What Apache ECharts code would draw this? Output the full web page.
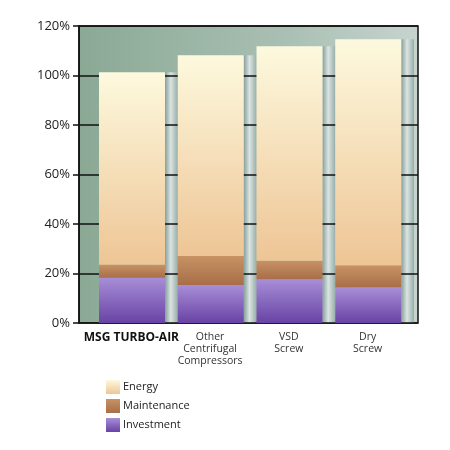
<!DOCTYPE html>
<html>
<head>
<meta charset="utf-8">
<script src="https://cdn.jsdelivr.net/npm/echarts@6/dist/echarts.min.js"></script>
<style>
  html, body { margin: 0; padding: 0; background: #fff; }
  #chart { width: 450px; height: 450px; }
</style>
</head>
<body>
<div id="chart"></div>
<script>
// compressor life-cycle cost shares
const categories = ['MSG TURBO-AIR', 'Other\nCentrifugal\nCompressors', 'VSD\nScrew', 'Dry\nScrew'];
const investment = [18.3, 15.4, 17.7, 14.3];
const maintenance = [5.2, 11.7, 7.5, 9.0];
const energy = [77.8, 81.1, 86.6, 91.3];
const yTicks = [0, 20, 40, 60, 80, 100, 120];

// side face of each bar (the 3D depth) is as tall as the whole stack
const totals = categories.map((c, i) => investment[i] + maintenance[i] + energy[i]);

const chart = echarts.init(document.getElementById('chart'));

const vGrad = (top, bottom) => new echarts.graphic.LinearGradient(0, 0, 0, 1, [
  { offset: 0, color: top },
  { offset: 1, color: bottom }
]);

const energyColor = vGrad('#fdf9de', '#eec595');
const maintColor = vGrad('#c79264', '#a86e48');
const investColor = vGrad('#a88ed8', '#6843a4');
const sideColor = new echarts.graphic.LinearGradient(0, 0, 1, 0, [
  { offset: 0, color: '#86a09c' },
  { offset: 0.45, color: '#dbe4e1' },
  { offset: 1, color: '#97aeaa' }
]);

const option = {
  animation: false,
  textStyle: { fontFamily: '"Open Sans", sans-serif' },
  grid: [
    {
      // plot frame + background + y axis
      left: 79, right: 32, top: 26, bottom: 127,
      show: true,
      borderColor: '#111',
      borderWidth: 1.5,
      backgroundColor: new echarts.graphic.LinearGradient(0, 0, 1, 0, [
        { offset: 0, color: '#8aa995' },
        { offset: 0.6, color: '#a9bfb3' },
        { offset: 1, color: '#c6d4ce' }
      ])
    },
    {
      // bars
      left: 99, right: 36, top: 26, bottom: 127
    }
  ],
  xAxis: [
    { gridIndex: 0, type: 'value', show: false, min: 0, max: 1 },
    {
      gridIndex: 1,
      type: 'category',
      data: categories,
      axisLine: { show: false },
      axisTick: { show: false },
      axisLabel: {
        interval: 0,
        margin: 8,
        verticalAlign: 'top',
        padding: [0, 14, 0, 0],
        formatter: (v, i) => i === 0 ? '{b|' + v + '}' : v,
        color: '#333',
        fontSize: 10.5,
        lineHeight: 12,
        rich: {
          b: { fontWeight: 'bold', fontSize: 12, color: '#111', lineHeight: 13 }
        }
      }
    }
  ],
  yAxis: [
    {
      gridIndex: 0,
      type: 'value',
      min: yTicks[0],
      max: yTicks[yTicks.length - 1],
      interval: 20,
      z: 3,
      axisLine: { show: true, lineStyle: { color: '#111', width: 1.5 } },
      axisTick: { show: true, length: 6, lineStyle: { color: '#111', width: 1.5 } },
      axisLabel: { formatter: '{value}%', color: '#222', fontSize: 13, margin: 9 },
      splitLine: { show: true, lineStyle: { color: '#111', width: 1.5 } }
    },
    {
      gridIndex: 1,
      type: 'value',
      min: yTicks[0],
      max: yTicks[yTicks.length - 1],
      show: false
    }
  ],
  legend: {
    orient: 'vertical',
    left: 101,
    top: 375,
    icon: 'rect',
    itemWidth: 14,
    itemHeight: 14,
    itemGap: 5,
    textStyle: { fontSize: 11, color: '#222', padding: [0, 0, 0, -2] },
    data: [
      { name: 'Energy', itemStyle: { color: energyColor } },
      { name: 'Maintenance', itemStyle: { color: maintColor } },
      { name: 'Investment', itemStyle: { color: investColor } }
    ]
  },
  series: [
    {
      name: 'Investment', type: 'bar', stack: 'cost',
      xAxisIndex: 1, yAxisIndex: 1, z: 5,
      barWidth: 66, barGap: '0%', barCategoryGap: '0%',
      itemStyle: { color: investColor },
      data: investment
    },
    {
      name: 'Maintenance', type: 'bar', stack: 'cost',
      xAxisIndex: 1, yAxisIndex: 1, z: 5,
      barWidth: 66,
      itemStyle: { color: maintColor },
      data: maintenance
    },
    {
      name: 'Energy', type: 'bar', stack: 'cost',
      xAxisIndex: 1, yAxisIndex: 1, z: 5,
      barWidth: 66,
      itemStyle: { color: energyColor },
      data: energy
    },
    {
      name: 'side', type: 'bar',
      xAxisIndex: 1, yAxisIndex: 1, z: 2,
      barWidth: 12.75,
      silent: true,
      itemStyle: { color: sideColor },
      data: totals
    }
  ]
};

chart.setOption(option);
</script>
</body>
</html>
